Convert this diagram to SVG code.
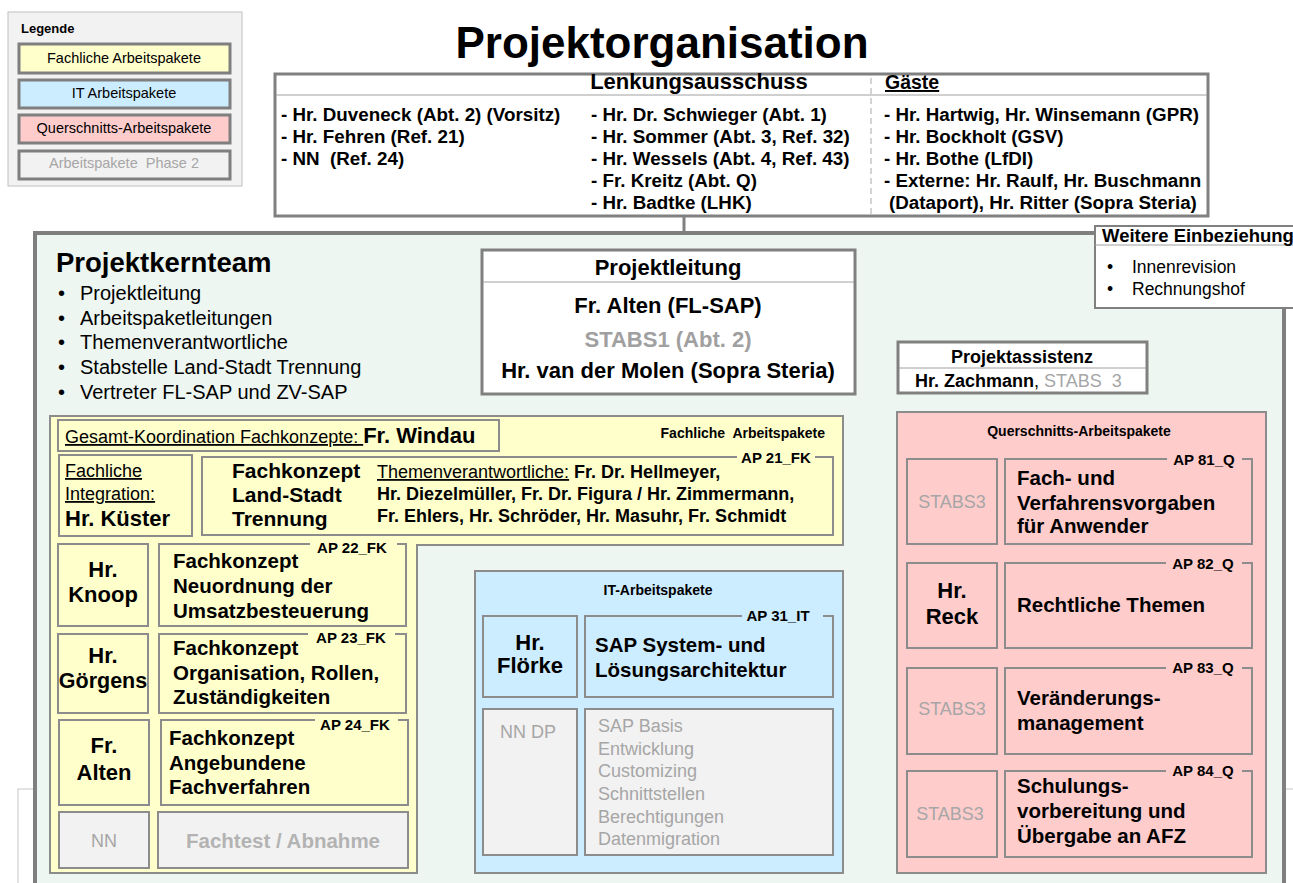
<svg xmlns="http://www.w3.org/2000/svg" width="1293" height="883" viewBox="0 0 1293 883">
<style>
text { font-family: "Liberation Sans", Arial, sans-serif; fill: #000; }
.b { font-weight: bold; }
.g, .g text, tspan.g { fill: #a6a6a6; }
.c { text-anchor: middle; }
.u { text-decoration: underline; }
.box { stroke: #8c8c8c; stroke-width: 2; }
.y { fill: #ffffcc; }
.bl { fill: #ccecff; }
.p { fill: #ffcccc; }
.gr { fill: #f2f2f2; }
.lg { stroke: #7f7f7f; stroke-width: 3; }
.ap { font-size: 15px; font-weight: bold; text-anchor: middle; }
.t18 { font-size: 18px; }
.t20 { font-size: 20.5px; font-weight: bold; }
.t22 { font-size: 22px; font-weight: bold; }
</style>
<rect x="0" y="0" width="1293" height="883" fill="#ffffff"/>
<rect x="18" y="789" width="1300" height="200" fill="none" stroke="#c8c8c8" stroke-width="1"/>

<g id="legend">
  <rect x="8" y="12" width="234" height="174" fill="#f2f2f2" stroke="#c0c0c0" stroke-width="1"/>
  <text x="21" y="33" class="b" font-size="13">Legende</text>
  <rect x="19" y="44" width="211" height="29" class="y lg"/>
  <text x="124" y="63" class="c" font-size="14.5">Fachliche Arbeitspakete</text>
  <rect x="19" y="80" width="211" height="28" class="bl lg"/>
  <text x="124" y="98" class="c" font-size="14.5">IT Arbeitspakete</text>
  <rect x="19" y="115" width="211" height="28" class="p lg"/>
  <text x="124" y="133" class="c" font-size="14.5">Querschnitts-Arbeitspakete</text>
  <rect x="19" y="151" width="211" height="28" class="gr lg"/>
  <text x="124" y="168" class="c g" font-size="14.5">Arbeitspakete&#160; Phase 2</text>
</g>

<text x="662" y="58" class="b c" font-size="44">Projektorganisation</text>

<g id="connectors" stroke="#808080" fill="none">
  <line x1="684" y1="216" x2="684" y2="234" stroke-width="3"/>
  <line x1="855" y1="367" x2="898" y2="367" stroke-width="1.5"/>
</g>

<g id="kernteam">
  <rect x="35" y="233" width="1249" height="700" fill="#edf6f1" stroke="#7f7f7f" stroke-width="4"/>
  <text x="56" y="272" class="b" font-size="27.5">Projektkernteam</text>
  <g font-size="20">
    <text x="58" y="300">•</text><text x="80" y="300">Projektleitung</text>
    <text x="58" y="325">•</text><text x="80" y="325">Arbeitspaketleitungen</text>
    <text x="58" y="349">•</text><text x="80" y="349">Themenverantwortliche</text>
    <text x="58" y="374">•</text><text x="80" y="374">Stabstelle Land-Stadt Trennung</text>
    <text x="58" y="399">•</text><text x="80" y="399">Vertreter FL-SAP und ZV-SAP</text>
  </g>
</g>

<g id="lenkungsausschuss">
  <rect x="275" y="74" width="933" height="142" fill="#ffffff" stroke="#808080" stroke-width="3"/>
  <line x1="276" y1="95" x2="1207" y2="95" stroke="#a0a0a0" stroke-width="1"/>
  <line x1="871" y1="78" x2="871" y2="214" stroke="#a6a6a6" stroke-width="1" stroke-dasharray="6 4"/>
  <text x="699" y="89" class="b c" font-size="22">Lenkungsausschuss</text>
  <text x="885" y="89" class="b u" font-size="19.5">Gäste</text>
  <g class="b" font-size="18.8">
    <text x="281" y="121">- Hr. Duveneck (Abt. 2) (Vorsitz)</text>
    <text x="281" y="143">- Hr. Fehren (Ref. 21)</text>
    <text x="281" y="165">- NN&#160; (Ref. 24)</text>
    <text x="591" y="121">- Hr. Dr. Schwieger (Abt. 1)</text>
    <text x="591" y="143">- Hr. Sommer (Abt. 3, Ref. 32)</text>
    <text x="591" y="165">- Hr. Wessels (Abt. 4, Ref. 43)</text>
    <text x="591" y="187">- Fr. Kreitz (Abt. Q)</text>
    <text x="591" y="209">- Hr. Badtke (LHK)</text>
    <text x="884" y="121">- Hr. Hartwig, Hr. Winsemann (GPR)</text>
    <text x="884" y="143">- Hr. Bockholt (GSV)</text>
    <text x="884" y="165">- Hr. Bothe (LfDI)</text>
    <text x="884" y="187">- Externe: Hr. Raulf, Hr. Buschmann</text>
    <text x="889" y="209">(Dataport), Hr. Ritter (Sopra Steria)</text>
  </g>
</g>

<g id="weitere">
  <rect x="1095" y="226" width="220" height="82" fill="#ffffff" stroke="#808080" stroke-width="2"/>
  <line x1="1095" y1="245" x2="1293" y2="245" stroke="#a0a0a0" stroke-width="1"/>
  <text x="1102" y="242" class="b" font-size="18.5">Weitere Einbeziehung</text>
  <text x="1107" y="273" font-size="17.5">•</text><text x="1132" y="273" font-size="17.5">Innenrevision</text>
  <text x="1107" y="295" font-size="17.5">•</text><text x="1132" y="295" font-size="17.5">Rechnungshof</text>
</g>

<g id="projektleitung">
  <rect x="482" y="250" width="373" height="144" fill="#ffffff" stroke="#808080" stroke-width="3"/>
  <line x1="483" y1="282" x2="854" y2="282" stroke="#a0a0a0" stroke-width="1"/>
  <text x="668" y="275" class="c t22">Projektleitung</text>
  <text x="668" y="313" class="c t22">Fr. Alten (FL-SAP)</text>
  <text x="668" y="347" class="c t22" style="fill:#a0a0a0">STABS1 (Abt. 2)</text>
  <text x="668" y="378" class="c t22">Hr. van der Molen (Sopra Steria)</text>
</g>

<g id="projektassistenz">
  <rect x="898" y="342" width="249" height="51" fill="#ffffff" stroke="#808080" stroke-width="3"/>
  <line x1="899" y1="368" x2="1146" y2="368" stroke="#a0a0a0" stroke-width="1"/>
  <text x="1022" y="363" class="b c" font-size="18">Projektassistenz</text>
  <text x="915" y="387" font-size="18"><tspan class="b">Hr. Zachmann</tspan>, <tspan class="g">STABS&#160; 3</tspan></text>
</g>

<g id="fachliche-arbeitspakete">
  <polygon points="50,416 843,416 843,545 417,545 417,873 50,873" class="y box"/>
  <text x="825" y="438" class="b" font-size="14" text-anchor="end">Fachliche&#160; Arbeitspakete</text>
</g>

<g id="koordination">
  <rect x="58" y="420" width="441" height="31" class="y box"/>
  <text x="65" y="443"><tspan class="u" font-size="18">Gesamt-Koordination Fachkonzepte: </tspan><tspan class="b" font-size="22">Fr. Windau</tspan></text>
</g>

<g id="integration">
  <rect x="59" y="455" width="133" height="81" class="y box"/>
  <text x="65" y="477" class="u" font-size="18">Fachliche</text>
  <text x="65" y="500" class="u" font-size="18">Integration:</text>
  <text x="65" y="526" class="t22">Hr. Küster</text>
</g>

<g id="ap21">
  <rect x="202" y="457" width="631" height="78" class="y box"/>
  <rect x="737" y="454" width="78" height="6" class="y"/>
  <text x="776" y="463" class="ap">AP 21_FK</text>
  <text x="232" y="478" class="b" font-size="21">Fachkonzept</text>
  <text x="232" y="502" class="b" font-size="21">Land-Stadt</text>
  <text x="232" y="526" class="b" font-size="21">Trennung</text>
  <text x="377" y="478"><tspan class="u" font-size="18">Themenverantwortliche:</tspan><tspan class="b" font-size="18"> Fr. Dr. Hellmeyer,</tspan></text>
  <text x="377" y="500" class="b" font-size="18">Hr. Diezelmüller, Fr. Dr. Figura / Hr. Zimmermann,</text>
  <text x="377" y="522" class="b" font-size="18">Fr. Ehlers, Hr. Schröder, Hr. Masuhr, Fr. Schmidt</text>
</g>

<g id="knoop">
  <rect x="58" y="544" width="90" height="82" class="y box"/>
  <text x="103" y="577" class="c t22">Hr.</text>
  <text x="103" y="602" class="c t22">Knoop</text>
</g>
<g id="ap22">
  <rect x="159" y="544" width="247" height="82" class="y box"/>
  <rect x="310" y="541" width="87" height="6" class="y"/>
  <text x="352" y="553" class="ap">AP 22_FK</text>
  <text x="173" y="568" class="t20">Fachkonzept</text>
  <text x="173" y="593" class="t20">Neuordnung der</text>
  <text x="173" y="618" class="t20">Umsatzbesteuerung</text>
</g>

<g id="goergens">
  <rect x="58" y="634" width="90" height="79" class="y box"/>
  <text x="103" y="663" class="c t22">Hr.</text>
  <text x="103" y="688" class="c" font-size="21.5" font-weight="bold">Görgens</text>
</g>
<g id="ap23">
  <rect x="159" y="634" width="247" height="79" class="y box"/>
  <rect x="308" y="631" width="87" height="6" class="y"/>
  <text x="351" y="643" class="ap">AP 23_FK</text>
  <text x="173" y="655" class="t20">Fachkonzept</text>
  <text x="173" y="680" class="t20">Organisation, Rollen,</text>
  <text x="173" y="704" class="t20">Zuständigkeiten</text>
</g>

<g id="alten">
  <rect x="59" y="720" width="90" height="85" class="y box"/>
  <text x="104" y="753" class="c t22">Fr.</text>
  <text x="104" y="780" class="c t22">Alten</text>
</g>
<g id="ap24">
  <rect x="161" y="720" width="247" height="85" class="y box"/>
  <rect x="315" y="717" width="83" height="6" class="y"/>
  <text x="355" y="730" class="ap">AP 24_FK</text>
  <text x="169" y="745" class="t20">Fachkonzept</text>
  <text x="169" y="770" class="t20">Angebundene</text>
  <text x="169" y="794" class="t20">Fachverfahren</text>
</g>

<g id="nn">
  <rect x="59" y="812" width="90" height="56" class="gr box"/>
  <text x="104" y="847" class="c g t18">NN</text>
</g>
<g id="fachtest">
  <rect x="158" y="812" width="250" height="56" class="gr box"/>
  <text x="283" y="848" class="c t20" style="fill:#b3b3b3">Fachtest / Abnahme</text>
</g>

<g id="it-arbeitspakete">
  <rect x="475" y="571" width="368" height="302" class="bl box"/>
  <text x="658" y="595" class="b c" font-size="14">IT-Arbeitspakete</text>
</g>
<g id="floerke">
  <rect x="483" y="616" width="94" height="81" class="bl box"/>
  <text x="530" y="650" class="c t22">Hr.</text>
  <text x="530" y="673" class="c t22">Flörke</text>
</g>
<g id="ap31">
  <rect x="585" y="616" width="248" height="81" class="bl box"/>
  <rect x="742" y="613" width="81" height="6" class="bl"/>
  <text x="778" y="621" class="ap">AP 31_IT</text>
  <text x="595" y="652" class="t20">SAP System- und</text>
  <text x="595" y="677" class="t20">Lösungsarchitektur</text>
</g>
<g id="nndp">
  <rect x="483" y="709" width="94" height="146" class="gr box"/>
  <text x="500" y="738" class="g t18">NN DP</text>
</g>
<g id="it-phase2">
  <rect x="585" y="709" width="248" height="146" class="gr box"/>
  <text x="598" y="732" class="g t18">SAP Basis</text>
  <text x="598" y="755" class="g t18">Entwicklung</text>
  <text x="598" y="777" class="g t18">Customizing</text>
  <text x="598" y="800" class="g t18">Schnittstellen</text>
  <text x="598" y="823" class="g t18">Berechtigungen</text>
  <text x="598" y="845" class="g t18">Datenmigration</text>
</g>

<g id="querschnitts-arbeitspakete">
  <rect x="897" y="412" width="369" height="461" class="p box"/>
  <text x="1079" y="436" class="b c" font-size="14">Querschnitts-Arbeitspakete</text>
</g>
<g id="stabs3-a">
  <rect x="907" y="459" width="90" height="85" class="p box"/>
  <text x="952" y="508" class="c g t18">STABS3</text>
</g>
<g id="ap81">
  <rect x="1005" y="459" width="247" height="85" class="p box"/>
  <rect x="1167" y="456" width="75" height="6" class="p"/>
  <text x="1204" y="465" class="ap">AP 81_Q</text>
  <text x="1017" y="485" class="t20">Fach- und</text>
  <text x="1017" y="510" class="t20">Verfahrensvorgaben</text>
  <text x="1017" y="533" class="t20">für Anwender</text>
</g>
<g id="reck">
  <rect x="907" y="563" width="90" height="85" class="p box"/>
  <text x="952" y="598" class="c t22">Hr.</text>
  <text x="952" y="624" class="c t22">Reck</text>
</g>
<g id="ap82">
  <rect x="1005" y="563" width="247" height="85" class="p box"/>
  <rect x="1166" y="560" width="76" height="6" class="p"/>
  <text x="1203" y="569" class="ap">AP 82_Q</text>
  <text x="1017" y="612" class="t20">Rechtliche Themen</text>
</g>
<g id="stabs3-b">
  <rect x="907" y="668" width="90" height="86" class="p box"/>
  <text x="952" y="715" class="c g t18">STABS3</text>
</g>
<g id="ap83">
  <rect x="1005" y="668" width="247" height="86" class="p box"/>
  <rect x="1166" y="665" width="76" height="6" class="p"/>
  <text x="1203" y="673" class="ap">AP 83_Q</text>
  <text x="1017" y="705" class="t20">Veränderungs-</text>
  <text x="1017" y="730" class="t20">management</text>
</g>
<g id="stabs3-c">
  <rect x="907" y="771" width="90" height="86" class="p box"/>
  <text x="950" y="820" class="c g t18">STABS3</text>
</g>
<g id="ap84">
  <rect x="1005" y="771" width="247" height="86" class="p box"/>
  <rect x="1166" y="768" width="76" height="6" class="p"/>
  <text x="1203" y="776" class="ap">AP 84_Q</text>
  <text x="1017" y="793" class="t20">Schulungs-</text>
  <text x="1017" y="818" class="t20">vorbereitung und</text>
  <text x="1017" y="843" class="t20">Übergabe an AFZ</text>
</g>
</svg>
